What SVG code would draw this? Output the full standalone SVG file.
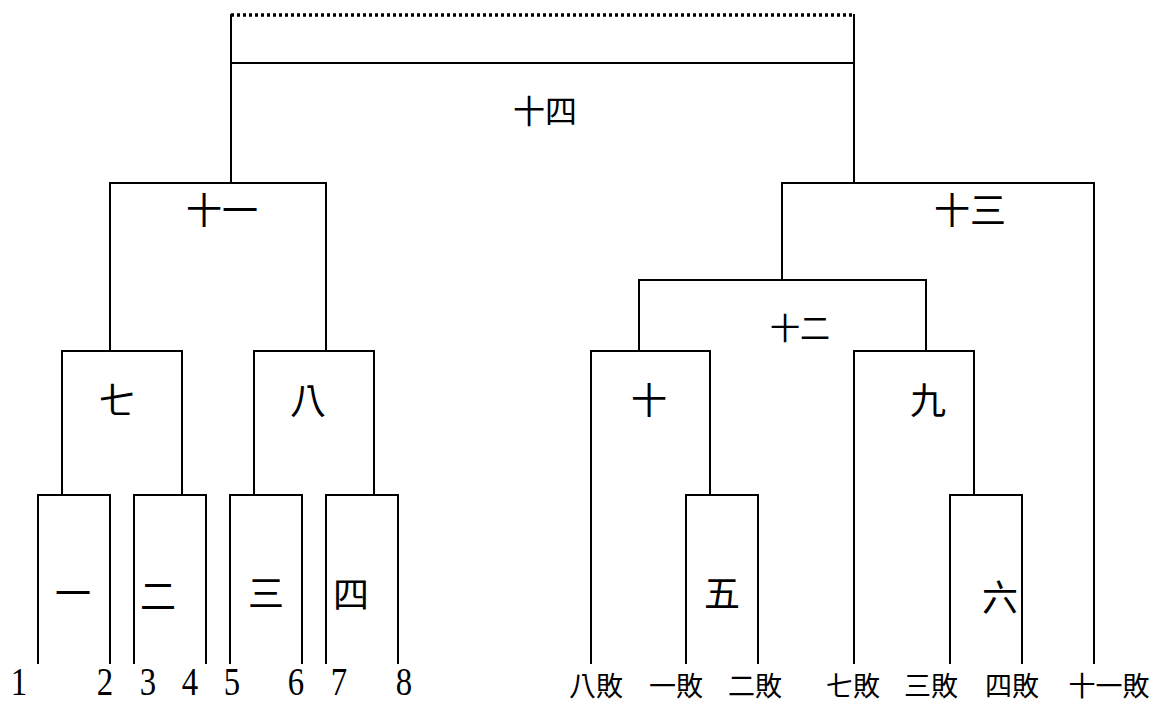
<svg xmlns="http://www.w3.org/2000/svg" width="1157" height="704" viewBox="0 0 1157 704">
<style>
.ln{fill:none;stroke:#000;stroke-width:2;stroke-linecap:square}
.dot{fill:none;stroke:#000;stroke-width:3.5;stroke-dasharray:3 3}
.cj{font-family:"Noto Sans CJK TC","Noto Sans CJK SC",sans-serif;fill:#000;text-anchor:middle}
.big{font-size:36px}
.mid{font-size:30px}
.sm{font-size:27px}
.num{font-family:"Liberation Serif",serif;font-size:41px;fill:#000;text-anchor:middle}
</style>
<rect width="1157" height="704" fill="#fff"/>
<g id="connectors">
<path class="dot" d="M231 15H854"/>
<path class="ln" d="M231 63H854"/>
<path class="ln" d="M231 183V15M854 183V15"/>
<path class="ln" d="M38 663V495H110V663"/>
<path class="ln" d="M134 663V495H206V663"/>
<path class="ln" d="M230 663V495H302V663"/>
<path class="ln" d="M326 663V495H398V663"/>
<path class="ln" d="M62 495V351H182V495"/>
<path class="ln" d="M254 495V351H374V495"/>
<path class="ln" d="M110 351V183H326V351"/>
<path class="ln" d="M591 663V351H710V495"/>
<path class="ln" d="M686 663V495H758V663"/>
<path class="ln" d="M854 663V351H974V495"/>
<path class="ln" d="M950 663V495H1022V663"/>
<path class="ln" d="M639 351V280H926V351"/>
<path class="ln" d="M782 280V183H1094V663"/>
</g>
<g id="m14"><text class="cj" style="font-size:32px" x="545" y="123">十四</text></g>
<g id="m11"><text class="cj big" x="222" y="224">十一</text></g>
<g id="m13"><text class="cj big" x="970" y="224">十三</text></g>
<g id="m12"><text class="cj mid" x="800" y="339">十二</text></g>
<g id="m7"><text class="cj big" x="117" y="414">七</text></g>
<g id="m8"><text class="cj big" x="308" y="414">八</text></g>
<g id="m10"><text class="cj big" x="649" y="414">十</text></g>
<g id="m9"><text class="cj big" x="928" y="414">九</text></g>
<g id="m1"><text class="cj big" x="73" y="607">一</text></g>
<g id="m2"><text class="cj big" x="158" y="610">二</text></g>
<g id="m3"><text class="cj big" x="266" y="607">三</text></g>
<g id="m4"><text class="cj big" x="351" y="608">四</text></g>
<g id="m5"><text class="cj big" x="722" y="607">五</text></g>
<g id="m6"><text class="cj big" x="1000" y="611">六</text></g>
<g id="seeds">
<text class="num" transform="translate(19 695) scale(0.8 1)">1</text>
<text class="num" transform="translate(105 695) scale(0.8 1)">2</text>
<text class="num" transform="translate(148 695) scale(0.8 1)">3</text>
<text class="num" transform="translate(190 695) scale(0.8 1)">4</text>
<text class="num" transform="translate(232 695) scale(0.8 1)">5</text>
<text class="num" transform="translate(296 695) scale(0.8 1)">6</text>
<text class="num" transform="translate(339 695) scale(0.8 1)">7</text>
<text class="num" transform="translate(404 695) scale(0.8 1)">8</text>
</g>
<g id="losers">
<text class="cj sm" x="596" y="696">八敗</text>
<text class="cj sm" x="676" y="696">一敗</text>
<text class="cj sm" x="755" y="696">二敗</text>
<text class="cj sm" x="853" y="696">七敗</text>
<text class="cj sm" x="931" y="696">三敗</text>
<text class="cj sm" x="1012" y="696">四敗</text>
<text class="cj sm" x="1109" y="696">十一敗</text>
</g>
</svg>
